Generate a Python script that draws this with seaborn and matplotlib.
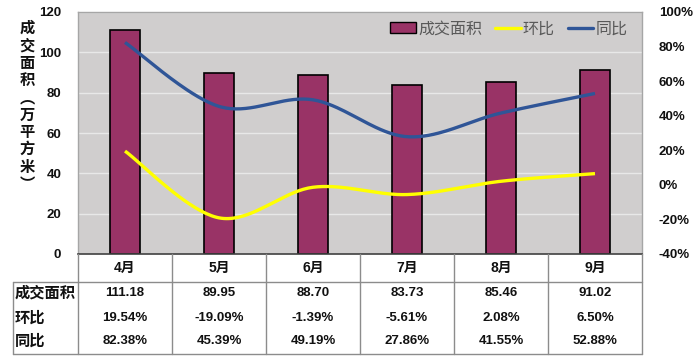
import numpy as np
import pandas as pd
import matplotlib
matplotlib.use("Agg")
import matplotlib.pyplot as plt
import matplotlib.transforms as mtransforms
from matplotlib.lines import Line2D
from matplotlib.patches import Patch
import seaborn as sns

# ---- data ----
months = ["4月", "5月", "6月", "7月", "8月", "9月"]
area = [111.18, 89.95, 88.70, 83.73, 85.46, 91.02]
mom = [19.54, -19.09, -1.39, -5.61, 2.08, 6.50]      # 环比 %
yoy = [82.38, 45.39, 49.19, 27.86, 41.55, 52.88]     # 同比 %
row_labels = ["成交面积", "环比", "同比"]
left_ticks = [0, 20, 40, 60, 80, 100, 120]
right_ticks = [-40, -20, 0, 20, 40, 60, 80, 100]

sns.set_style("white")
NUM = ["Liberation Sans", "Noto Sans CJK SC", "DejaVu Sans"]
plt.rcParams["font.family"] = NUM

W, H = 695, 358
fig = plt.figure(figsize=(W / 100, H / 100), dpi=100)
L, R, T, B = 78, 642, 12, 254
ax = fig.add_axes([L / W, 1 - B / H, (R - L) / W, (B - T) / H])

bg = "#D0CECE"
ax.set_facecolor(bg)

df = pd.DataFrame({"month": months, "area": area})
sns.barplot(data=df, x="month", y="area", order=months, color="#993366",
            width=0.32, edgecolor="black", linewidth=1.2, ax=ax, zorder=2,
            saturation=1)
ax.set_xlim(-0.5, len(months) - 0.5)
ax.set_ylim(0, 120)
ax.set_yticks(left_ticks)
ax.set_yticklabels([str(t) for t in left_ticks], fontsize=9.5,
                   fontweight="bold", color="#111111")
ax.yaxis.grid(True, color="#E8E8E8", linewidth=1.0, zorder=0)
ax.set_axisbelow(True)
ax.set_xlabel("")
ax.set_ylabel("")
ax.tick_params(axis="y", length=0, pad=12)
ax.tick_params(axis="x", length=0, pad=5)
ax.set_xticks(range(len(months)))
ax.set_xticklabels(months, fontsize=10, fontweight="bold", color="#111111",
                   family=["Liberation Sans", "Noto Sans CJK SC"])
for s in ["top", "right", "left"]:
    ax.spines[s].set_color("#A6A6A6")
    ax.spines[s].set_linewidth(1)
ax.spines["bottom"].set_color("#404040")
ax.spines["bottom"].set_linewidth(1.2)

# right axis
ax2 = ax.twinx()
ax2.set_ylim(-40, 100)
ax2.set_yticks(right_ticks)
ax2.set_yticklabels([f"{t}%" for t in right_ticks], fontsize=9.5,
                    fontweight="bold", color="#111111")
ax2.tick_params(axis="y", length=0, pad=12)
for s in ax2.spines.values():
    s.set_visible(False)


def smooth(xs, ys, n=40):
    # Bezier smoothing (Excel-like, Catmull-Rom control points)
    P = np.column_stack([xs, ys]).astype(float)
    pts = []
    m = len(P)
    for i in range(m - 1):
        p0 = P[i - 1] if i > 0 else P[i]
        p1 = P[i]
        p2 = P[i + 1]
        p3 = P[i + 2] if i + 2 < m else P[i + 1]
        c1 = p1 + (p2 - p0) / 6
        c2 = p2 - (p3 - p1) / 6
        t = np.linspace(0, 1, n)[:, None]
        seg = ((1 - t) ** 3) * p1 + 3 * ((1 - t) ** 2) * t * c1 + \
            3 * (1 - t) * t ** 2 * c2 + t ** 3 * p2
        pts.append(seg if i == 0 else seg[1:])
    pts = np.vstack(pts)
    return pts[:, 0], pts[:, 1]


xpos = np.arange(len(months))
sx, sy = smooth(xpos, mom)
ax2.plot(sx, sy, color="#FFFF00", linewidth=2.4, solid_capstyle="butt", zorder=3)
bx, by = smooth(xpos, yoy)
ax2.plot(bx, by, color="#2F5597", linewidth=2.4, solid_capstyle="butt", zorder=3)

# legend
handles = [Patch(facecolor="#993366", edgecolor="black", linewidth=1),
           Line2D([], [], color="#FFFF00", linewidth=2.4),
           Line2D([], [], color="#2F5597", linewidth=2.4)]
leg = ax2.legend(handles, ["成交面积", "环比", "同比"], loc="upper right",
                 ncol=3, frameon=False, bbox_to_anchor=(1.0, 1.025),
                 handlelength=1.6, handletextpad=0.15, columnspacing=0.8,
                 prop={"family": ["Noto Sans CJK SC"], "size": 11.5})
for t in leg.get_texts():
    t.set_color("#595959")

# y-axis label (vertical stacked)
ylab = "成交面积︵万平方米︶"
fig.text(27 / W, 1 - 106 / H, "\n".join(ylab), ha="center", va="center",
         fontsize=11, fontweight="bold", family=["Noto Sans CJK SC"],
         linespacing=1.1, color="#111111")

# ---- data table below ----
def fy(py):
    return 1 - py / H

tr = mtransforms.blended_transform_factory(ax.transData, fig.transFigure)
grid_c = "#8C8C8C"
for b in np.arange(-0.5, len(months), 1.0):
    fig.add_artist(Line2D([b, b], [fy(B), fy(354)], transform=tr,
                          color=grid_c, linewidth=1))
fig.add_artist(Line2D([13 / W, R / W], [fy(282), fy(282)], color=grid_c, linewidth=1))
fig.add_artist(Line2D([13 / W, R / W], [fy(354), fy(354)], color=grid_c, linewidth=1))
fig.add_artist(Line2D([13 / W, 13 / W], [fy(282), fy(354)], color=grid_c, linewidth=1))

row_y = [293, 318, 341]
for lab, yy in zip(row_labels, row_y):
    fig.text(15 / W, fy(yy), lab, ha="left", va="center", fontsize=11,
             fontweight="bold", family=["Noto Sans CJK SC"], color="#111111")

rows = [[f"{v:.2f}" for v in area],
        [f"{v:.2f}%" for v in mom],
        [f"{v:.2f}%" for v in yoy]]
for vals, yy in zip(rows, row_y):
    for i, v in enumerate(vals):
        fig.text(i, fy(yy), v, transform=tr, ha="center", va="center",
                 fontsize=9.5, fontweight="bold", color="#111111")

fig.savefig("out.png", dpi=100)
